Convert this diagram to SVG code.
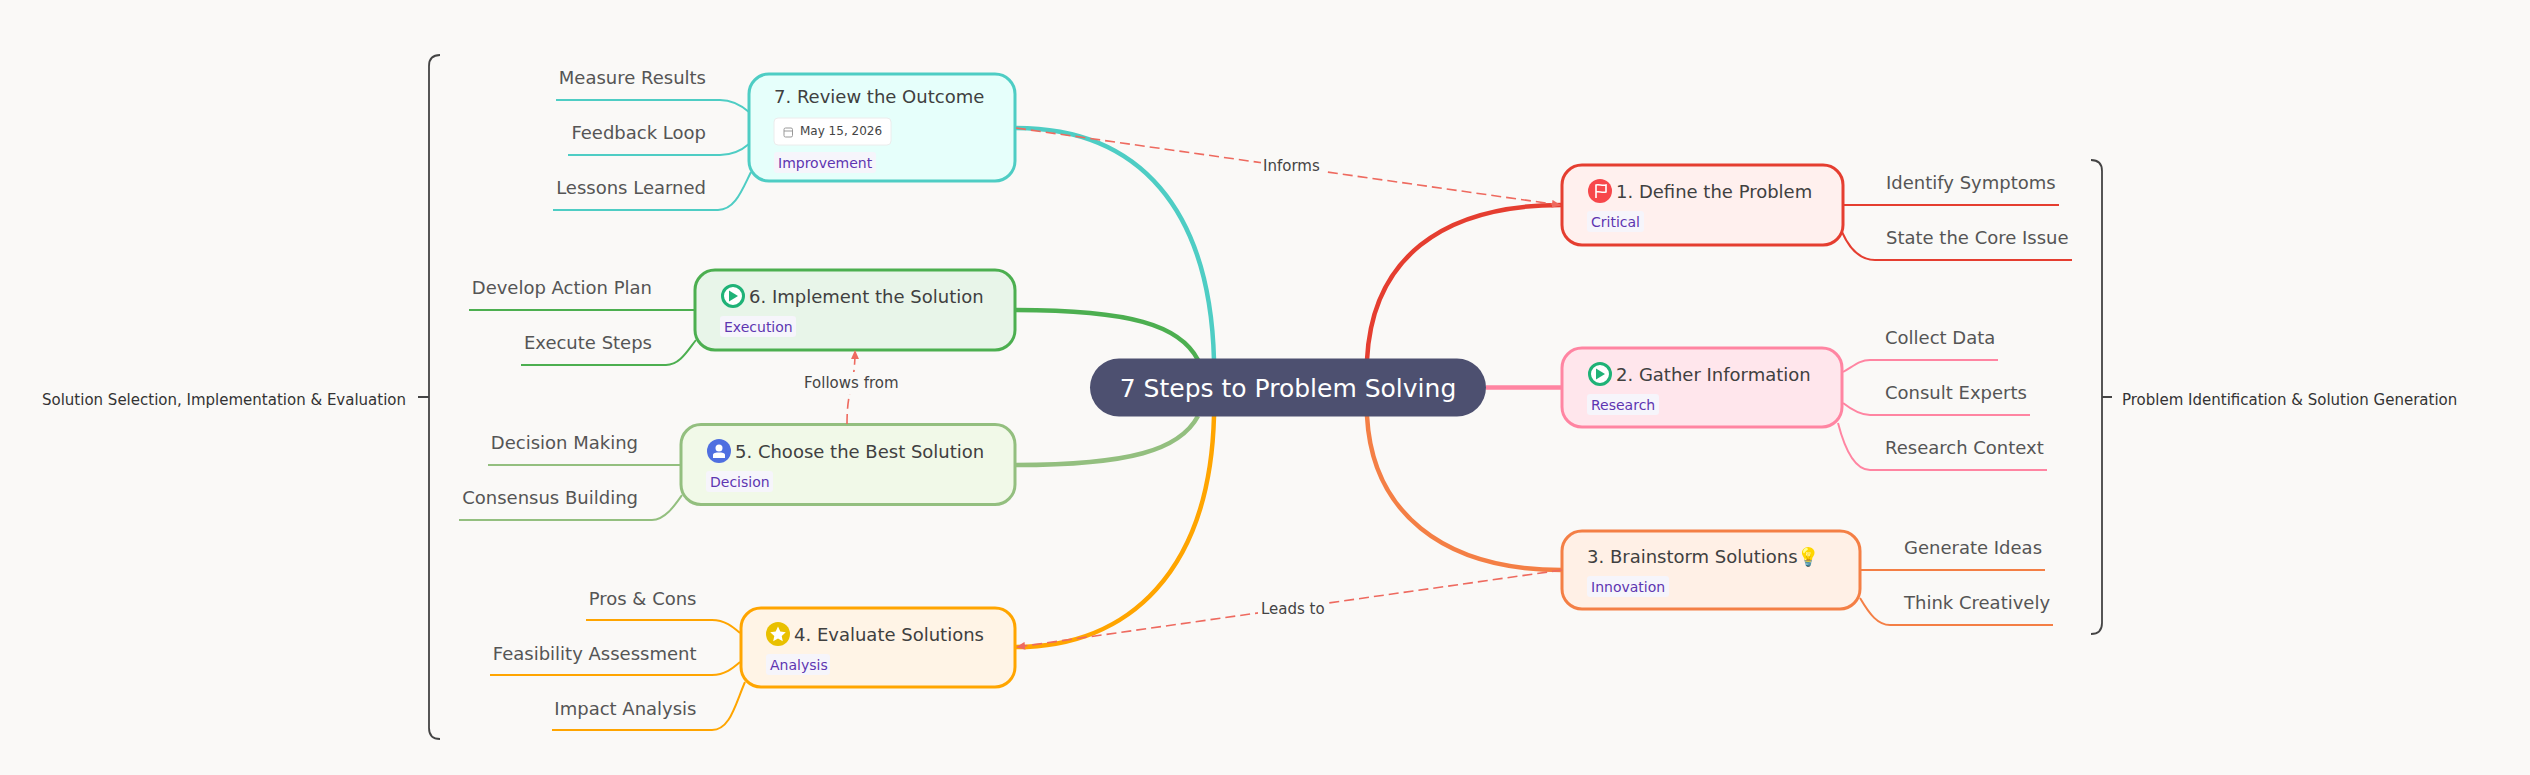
<svg xmlns="http://www.w3.org/2000/svg" width="2530" height="775" viewBox="0 0 2530 775">
<style>
text{font-family:"DejaVu Sans","Liberation Sans",sans-serif}
.n{stroke-width:3}
.t{font-size:18px;fill:#404040}
.b{font-size:18px;fill:#555}
.tag{font-size:14px;fill:#5e35b1}
.chip{fill:#f6f5fb}
.e{fill:none;stroke-width:4.500}
.s{fill:none;stroke-width:2}
.rel{fill:none;stroke:#ee6a5f;stroke-width:1.6;stroke-dasharray:10 5}
.lbl{font-size:15px;fill:#444}
.sum{font-size:15px;fill:#333}
.br{fill:none;stroke:#444;stroke-width:1.800}
</style>
<defs>
<marker id="arr" viewBox="0 0 10 10" refX="9" refY="5" markerWidth="9" markerHeight="8" preserveAspectRatio="none" orient="auto" markerUnits="userSpaceOnUse"><path d="M0 0L10 5L0 10z" fill="#ee6a5f"/></marker>
</defs>
<rect width="2530" height="775" fill="#faf9f7"/>
<g id="connectors">
<path class="e" stroke="#e53e30" d="M1367 360C1372 260 1440 205 1561 205"/>
<path class="e" stroke="#ff85a2" d="M1486 387.500H1562"/>
<path class="e" stroke="#f47f45" d="M1367 416C1372 510 1440 570 1562 570"/>
<path class="e" stroke="#ffa500" d="M1214 416C1210 570 1130 647 1016 647"/>
<path class="e" stroke="#93bf7f" d="M1198 416C1180 450 1130 465 1015 465"/>
<path class="e" stroke="#4caf50" d="M1198 360C1180 325 1130 310 1015 310"/>
<path class="e" stroke="#4ecdc4" d="M1214 360C1210 210 1140 128 1016 128"/>
<g stroke="#e53e30"><path class="s" d="M1844 205H2059"/><path class="s" d="M1842 232C1850 250 1860 260 1875 260H2072"/></g>
<g stroke="#ff85a2"><path class="s" d="M1843 372C1855 365 1860 360 1870 360H1998"/><path class="s" d="M1843 403C1852 410 1860 415 1870 415H2030"/><path class="s" d="M1838 423C1845 450 1855 470 1870 470H2047"/></g>
<g stroke="#f47f45"><path class="s" d="M1861 570H2045"/><path class="s" d="M1860 598C1870 615 1878 625 1890 625H2053"/></g>
<g stroke="#4ecdc4"><path class="s" d="M556 100H720C732 100 742 106 749 112"/><path class="s" d="M568 155H720C732 155 742 150 749 144"/><path class="s" d="M553 210H718C735 210 742 190 751 172"/></g>
<g stroke="#4caf50"><path class="s" d="M469 310H695"/><path class="s" d="M521 365H666C680 365 688 350 696 340"/></g>
<g stroke="#93bf7f"><path class="s" d="M488 465H681"/><path class="s" d="M459 520H652C665 520 675 505 682 495"/></g>
<g stroke="#ffa500"><path class="s" d="M586 620H712C725 620 733 627 740 633"/><path class="s" d="M490 675H712C725 675 733 668 740 662"/><path class="s" d="M552 730H712C730 730 735 705 745 682"/></g>
</g>
<g id="root"><rect x="1090" y="358.500" width="396" height="58" rx="29" fill="#4d5070"/><text x="1288" y="396.500" text-anchor="middle" font-size="25" fill="#fff">7 Steps to Problem Solving</text></g>
<g id="node1"><rect class="n" x="1562" y="165" width="281" height="80" rx="20" fill="#fff0ee" stroke="#e53e30"/>
<circle cx="1600" cy="191" r="12" fill="#f7474b"/><path d="M1596 198V185C1599 184 1602 186 1606 185V192C1602 193 1599 191 1596 192" fill="none" stroke="#fff" stroke-width="1.600"/>
<text class="t" x="1616" y="198">1. Define the Problem</text>
<rect class="chip" x="1587" y="211" width="57" height="21" rx="3"/><text class="tag" x="1591" y="227">Critical</text></g>
<g id="node1-a"><text class="b" x="1886" y="189">Identify Symptoms</text></g>
<g id="node1-b"><text class="b" x="1886" y="244">State the Core Issue</text></g>
<g id="node2"><rect class="n" x="1562" y="348" width="280" height="79" rx="20" fill="#ffe6ec" stroke="#ff85a2"/>
<circle cx="1600" cy="374" r="10.500" fill="#fff" stroke="#1fb277" stroke-width="3"/><path d="M1596 368.500V379.500L1605 374z" fill="#1fb277"/>
<text class="t" x="1616" y="381">2. Gather Information</text>
<rect class="chip" x="1587" y="394" width="72" height="21" rx="3"/><text class="tag" x="1591" y="410">Research</text></g>
<g id="node2-a"><text class="b" x="1885" y="344">Collect Data</text></g>
<g id="node2-b"><text class="b" x="1885" y="399">Consult Experts</text></g>
<g id="node2-c"><text class="b" x="1885" y="454">Research Context</text></g>
<g id="node3"><rect class="n" x="1562" y="531" width="298" height="78" rx="20" fill="#fff0e6" stroke="#f47f45"/>
<text class="t" x="1587" y="563">3. Brainstorm Solutions<tspan font-family="Noto Color Emoji,sans-serif">💡</tspan></text>
<rect class="chip" x="1587" y="576" width="82" height="21" rx="3"/><text class="tag" x="1591" y="592">Innovation</text></g>
<g id="node3-a"><text class="b" x="1904" y="554">Generate Ideas</text></g>
<g id="node3-b"><text class="b" x="1904" y="609">Think Creatively</text></g>
<g id="node4"><rect class="n" x="741" y="608" width="274" height="79" rx="20" fill="#fff4e6" stroke="#ffa500"/>
<circle cx="778" cy="634" r="12" fill="#e9c000"/><path d="M778 626.500L780.300 631.600L785.800 632.200L781.700 635.900L782.800 641.300L778 638.500L773.200 641.300L774.300 635.900L770.200 632.200L775.700 631.600z" fill="#fff"/>
<text class="t" x="794" y="641">4. Evaluate Solutions</text>
<rect class="chip" x="766" y="654" width="64" height="21" rx="3"/><text class="tag" x="770" y="670">Analysis</text></g>
<g id="node4-a"><text class="b" x="696.500" y="605" text-anchor="end">Pros &amp; Cons</text></g>
<g id="node4-b"><text class="b" x="696.500" y="660" text-anchor="end">Feasibility Assessment</text></g>
<g id="node4-c"><text class="b" x="696.500" y="715" text-anchor="end">Impact Analysis</text></g>
<g id="node5"><rect class="n" x="681" y="424.500" width="334" height="80" rx="20" fill="#f1f9e8" stroke="#93bf7f"/>
<circle cx="719" cy="451" r="12" fill="#4f6fe0"/><circle cx="719" cy="448" r="3.500" fill="#fff"/><path d="M713 458V455C713 453 716 452.500 719 452.500C722 452.500 725 453 725 455V458z" fill="#fff"/>
<text class="t" x="735" y="458">5. Choose the Best Solution</text>
<rect class="chip" x="706" y="471" width="67" height="21" rx="3"/><text class="tag" x="710" y="487">Decision</text></g>
<g id="node5-a"><text class="b" x="638" y="449" text-anchor="end">Decision Making</text></g>
<g id="node5-b"><text class="b" x="638" y="504" text-anchor="end">Consensus Building</text></g>
<g id="node6"><rect class="n" x="695" y="270" width="320" height="80" rx="20" fill="#e8f5e9" stroke="#4caf50"/>
<circle cx="733" cy="296" r="10.500" fill="#fff" stroke="#1fb277" stroke-width="3"/><path d="M729 290.500V301.500L738 296z" fill="#1fb277"/>
<text class="t" x="749" y="303">6. Implement the Solution</text>
<rect class="chip" x="720" y="316" width="76" height="21" rx="3"/><text class="tag" x="724" y="332">Execution</text></g>
<g id="node6-a"><text class="b" x="652" y="294" text-anchor="end">Develop Action Plan</text></g>
<g id="node6-b"><text class="b" x="652" y="349" text-anchor="end">Execute Steps</text></g>
<g id="node7"><rect class="n" x="749" y="74" width="266" height="107" rx="20" fill="#e6fffb" stroke="#4ecdc4"/>
<text class="t" x="774" y="103">7. Review the Outcome</text>
<rect x="774" y="118" width="117" height="27" rx="4" fill="#fff" stroke="#ececec"/>
<rect x="784" y="128" width="8.500" height="9" rx="1.500" fill="none" stroke="#999" stroke-width="1"/><path d="M784 131H792.500" stroke="#999" stroke-width="1"/>
<text x="800" y="135" font-size="12" fill="#444">May 15, 2026</text>
<rect class="chip" x="774" y="152" width="102" height="21" rx="3"/><text class="tag" x="778" y="168">Improvement</text></g>
<g id="node7-a"><text class="b" x="706" y="84" text-anchor="end">Measure Results</text></g>
<g id="node7-b"><text class="b" x="706" y="139" text-anchor="end">Feedback Loop</text></g>
<g id="node7-c"><text class="b" x="706" y="194" text-anchor="end">Lessons Learned</text></g>
<g id="relations">
<path class="rel" d="M1016 128L1560 205" marker-end="url(#arr)"/>
<path class="rel" d="M1562 570L1017 647" marker-end="url(#arr)"/>
<path class="rel" d="M847 424C847 387 855 387 855 351" marker-end="url(#arr)"/>
<rect x="1261" y="155" width="62" height="22" fill="#faf9f7"/>
<text class="lbl" x="1263" y="171">Informs</text>
<rect x="1258" y="597" width="70" height="22" fill="#faf9f7"/>
<text class="lbl" x="1261" y="614">Leads to</text>
<rect x="802" y="372" width="97" height="22" fill="#faf9f7"/>
<text class="lbl" x="804" y="388">Follows from</text>
</g>
<g id="summary-right"><path class="br" d="M2091 160C2098 160 2102 164 2102 171V623C2102 630 2098 634 2091 634M2102 397H2112"/><text class="sum" x="2122" y="404.500">Problem Identification &amp; Solution Generation</text></g>
<g id="summary-left"><path class="br" d="M440 55C433 55 429 59 429 66V728C429 735 433 739 440 739M429 397H418"/><text class="sum" x="42" y="404.500">Solution Selection, Implementation &amp; Evaluation</text></g>
</svg>
